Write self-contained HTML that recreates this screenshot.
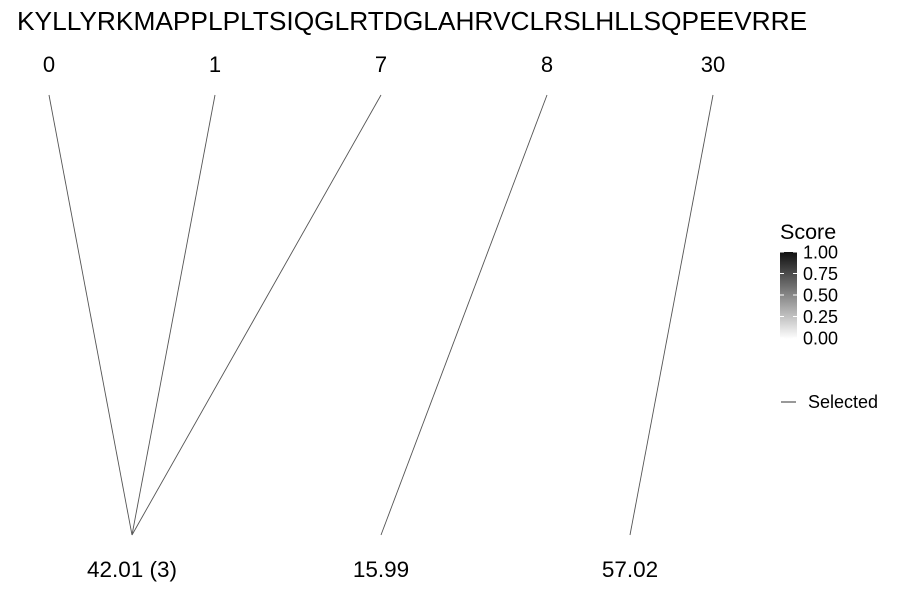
<!DOCTYPE html>
<html><head><meta charset="utf-8"><style>
body{margin:0;background:#fff;}
svg text{font-family:"Liberation Sans",sans-serif;fill:#000;}
</style></head><body>
<svg id="chart" width="900" height="600">
<defs><linearGradient id="g" x1="0" y1="1" x2="0" y2="0"><stop offset="0" stop-color="#fff"/><stop offset="1" stop-color="#111"/></linearGradient></defs>
<text x="17" y="30" font-size="26.3">KYLLYRKMAPPLPLTSIQGLRTDGLAHRVCLRSLHLLSQPEEVRRE</text>
<g id="lines"></g><g id="labels"></g>
<g>
<text x="780" y="239" font-size="21.5">Score</text>
<rect x="780" y="252" width="17" height="87" fill="url(#g)"/>
<g id="cticks"></g>
</g>
<g>
<line x1="781" y1="402" x2="796" y2="402" stroke="#333" stroke-width="1"/>
<text x="808" y="408" font-size="18">Selected</text>
</g>
</svg>
<script>
const topLabels=["0","1","7","8","30"];
const bottomLabels=["42.01 (3)","15.99","57.02"];
const links=[[0,0],[1,0],[2,0],[3,1],[4,2]];
const cbTicks=["0.00","0.25","0.50","0.75","1.00"];
const ns="http://www.w3.org/2000/svg";
const topX=i=>49+i*166, botX=j=>132+j*249;
const L=document.getElementById('lines'),T=document.getElementById('labels'),C=document.getElementById('cticks');
links.forEach(([a,b])=>{const l=document.createElementNS(ns,'line');


l.setAttribute('x1',topX(a));l.setAttribute('y1',95);l.setAttribute('x2',botX(b));l.setAttribute('y2',535);
l.setAttribute('stroke','#555');l.setAttribute('stroke-width','0.9');L.appendChild(l);});
topLabels.forEach((s,i)=>{const t=document.createElementNS(ns,'text');


t.setAttribute('x',topX(i));t.setAttribute('y',72);t.setAttribute('font-size','22');t.setAttribute('text-anchor','middle');t.textContent=s;T.appendChild(t);});
bottomLabels.forEach((s,j)=>{const t=document.createElementNS(ns,'text');


t.setAttribute('x',botX(j));t.setAttribute('y',577);t.setAttribute('font-size','22.5');t.setAttribute('text-anchor','middle');t.textContent=s;T.appendChild(t);});
cbTicks.forEach((s,k)=>{const y=338-k*21.5;const t=document.createElementNS(ns,'text');


t.setAttribute('x',803);t.setAttribute('y',y+6.5);t.setAttribute('font-size','18');t.textContent=s;C.appendChild(t);
const m=document.createElementNS(ns,'line');m.setAttribute('x1',780);m.setAttribute('x2',784);m.setAttribute('y1',y);m.setAttribute('y2',y);m.setAttribute('stroke','#fff');C.appendChild(m);
const m2=document.createElementNS(ns,'line');m2.setAttribute('x1',793);m2.setAttribute('x2',797);m2.setAttribute('y1',y);m2.setAttribute('y2',y);m2.setAttribute('stroke','#fff');C.appendChild(m2);});
</script>
</body></html>
